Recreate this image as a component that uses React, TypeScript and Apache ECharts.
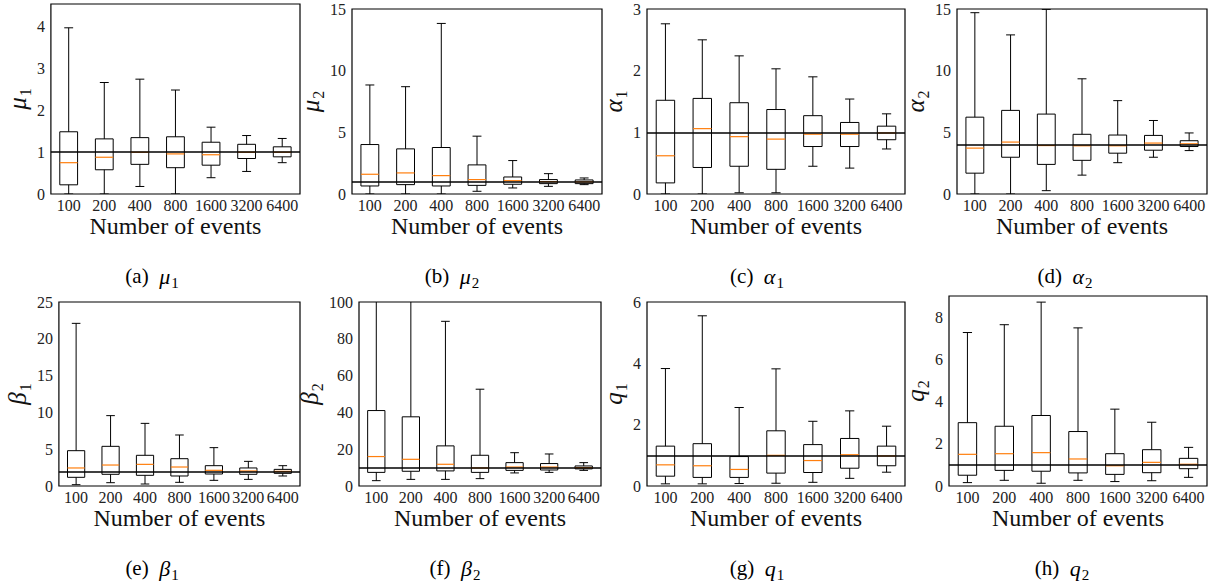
import React, { useEffect, useRef } from 'react';
import * as echarts from 'echarts';

const categories = ['100', '200', '400', '800', '1600', '3200', '6400'];

// each row: [whisker low, Q1, median, Q3, whisker high]
const mu1Boxes = [
  [0.0, 0.22, 0.75, 1.49, 3.98],
  [0.0, 0.58, 0.88, 1.32, 2.67],
  [0.18, 0.71, 1.0, 1.35, 2.75],
  [0.0, 0.63, 0.96, 1.37, 2.49],
  [0.39, 0.69, 0.94, 1.24, 1.6],
  [0.54, 0.85, 1.0, 1.19, 1.4],
  [0.75, 0.89, 1.0, 1.13, 1.33],
];
const mu2Boxes = [
  [0.0, 0.65, 1.6, 4.01, 8.84],
  [0.0, 0.76, 1.71, 3.66, 8.7],
  [0.0, 0.65, 1.49, 3.77, 13.83],
  [0.22, 0.7, 1.17, 2.36, 4.69],
  [0.49, 0.79, 1.08, 1.38, 2.71],
  [0.62, 0.84, 1.0, 1.17, 1.65],
  [0.76, 0.84, 0.98, 1.14, 1.3],
];
const alpha1Boxes = [
  [0.0, 0.18, 0.62, 1.52, 2.76],
  [0.0, 0.43, 1.06, 1.55, 2.5],
  [0.02, 0.45, 0.93, 1.48, 2.24],
  [0.02, 0.4, 0.89, 1.37, 2.03],
  [0.45, 0.77, 0.97, 1.27, 1.9],
  [0.42, 0.77, 0.97, 1.16, 1.54],
  [0.73, 0.88, 0.99, 1.1, 1.3],
];
const alpha2Boxes = [
  [0.0, 1.69, 3.72, 6.23, 14.7],
  [0.0, 2.98, 4.21, 6.78, 12.9],
  [0.27, 2.4, 3.93, 6.48, 14.97],
  [1.53, 2.73, 3.91, 4.84, 9.34],
  [2.54, 3.31, 3.91, 4.78, 7.57],
  [2.98, 3.55, 4.13, 4.75, 5.96],
  [3.52, 3.85, 4.07, 4.32, 4.95],
];
const beta1Boxes = [
  [0.18, 1.18, 2.45, 4.8, 22.1],
  [0.45, 1.59, 2.85, 5.39, 9.56],
  [0.27, 1.45, 2.94, 4.17, 8.51],
  [0.5, 1.36, 2.58, 3.71, 6.93],
  [0.77, 1.63, 2.13, 2.76, 5.21],
  [0.9, 1.59, 2.04, 2.45, 3.35],
  [1.36, 1.72, 1.99, 2.26, 2.76],
];
const beta2Boxes = [
  [2.9, 7.4, 16.0, 41.0, 130],
  [3.6, 8.0, 14.5, 37.6, 120],
  [3.6, 8.2, 11.8, 21.8, 89.5],
  [4.0, 7.4, 9.8, 16.7, 52.6],
  [7.1, 8.5, 10.3, 12.7, 18.1],
  [7.4, 8.7, 10.3, 12.2, 17.4],
  [8.5, 9.3, 10.0, 10.9, 12.7],
];
const q1Boxes = [
  [0.07, 0.32, 0.69, 1.3, 3.83],
  [0.07, 0.28, 0.66, 1.38, 5.55],
  [0.08, 0.28, 0.54, 0.96, 2.56],
  [0.09, 0.42, 1.0, 1.8, 3.82],
  [0.12, 0.44, 0.83, 1.35, 2.11],
  [0.25, 0.58, 1.02, 1.55, 2.45],
  [0.45, 0.66, 0.98, 1.3, 1.95],
];
const q2Boxes = [
  [0.16, 0.51, 1.5, 3.0, 7.27],
  [0.27, 0.74, 1.53, 2.83, 7.64],
  [0.13, 0.7, 1.58, 3.34, 8.71],
  [0.27, 0.62, 1.28, 2.58, 7.49],
  [0.21, 0.55, 0.96, 1.53, 3.64],
  [0.25, 0.63, 1.12, 1.72, 3.02],
  [0.41, 0.82, 1.03, 1.31, 1.83],
];

const trueValues = [1, 1, 1, 4, 2, 10, 1, 1];
const yMaxes = [4.55, 15, 3, 15, 25, 100, 6, 9];
const yIntervals = [1, 5, 1, 5, 5, 20, 2, 2];
const captionLetters = ['a', 'b', 'c', 'd', 'e', 'f', 'g', 'h'];
const symbolNames = ['μ', 'μ', 'α', 'α', 'β', 'β', 'q', 'q'];
const symbolSubs = ['1', '2', '1', '2', '1', '2', '1', '2'];
const allBoxes = [mu1Boxes, mu2Boxes, alpha1Boxes, alpha2Boxes, beta1Boxes, beta2Boxes, q1Boxes, q2Boxes];

// layout: [left, top, right, bottom] in pixels
const panelRects = [
  [41, 4, 300, 194],
  [352, 9, 602, 194],
  [647, 9, 905, 194],
  [957, 9, 1207, 194],
  [49, 302, 300, 486],
  [359, 302, 601, 486],
  [647, 302, 905, 486],
  [949, 296, 1207, 486],
];
const captionPos = [
  [152, 276], [452, 276], [757, 276], [1065, 276],
  [152, 568], [455, 568], [757, 568], [1062, 568],
];

const FONT = 'Liberation Serif';

function renderBox(params: any, api: any) {
  const idx = api.value(0);
  const lo = api.coord([idx, api.value(1)]);
  const q1 = api.coord([idx, api.value(2)]);
  const md = api.coord([idx, api.value(3)]);
  const q3 = api.coord([idx, api.value(4)]);
  const hi = api.coord([idx, api.value(5)]);
  const band = api.size([1, 0])[0];
  const half = band * 0.25;
  const cap = band * 0.125;
  const x = lo[0];
  const black = { stroke: '#000', lineWidth: 1, fill: null };
  return {
    type: 'group',
    children: [
      { type: 'line', shape: { x1: x, y1: lo[1], x2: x, y2: q1[1] }, style: black },
      { type: 'line', shape: { x1: x, y1: q3[1], x2: x, y2: hi[1] }, style: black },
      { type: 'line', shape: { x1: x - cap, y1: lo[1], x2: x + cap, y2: lo[1] }, style: black },
      { type: 'line', shape: { x1: x - cap, y1: hi[1], x2: x + cap, y2: hi[1] }, style: black },
      {
        type: 'rect',
        shape: { x: x - half, y: q3[1], width: half * 2, height: q1[1] - q3[1] },
        style: { stroke: '#000', lineWidth: 1, fill: 'rgba(0,0,0,0)' },
      },
      { type: 'line', shape: { x1: x - half, y1: md[1], x2: x + half, y2: md[1] }, style: { stroke: '#ff7f0e', lineWidth: 1.2 } },
    ],
  };
}

const richSym = {
  g: { fontFamily: FONT, fontSize: 25, fontStyle: 'italic', color: '#111', lineHeight: 26 },
  s: { fontFamily: FONT, fontSize: 16, color: '#111', lineHeight: 16, padding: [16, 0, 0, 1] },
};
const richCap = {
  r: { fontFamily: FONT, fontSize: 21, color: '#111', lineHeight: 24 },
  g: { fontFamily: FONT, fontSize: 22, fontStyle: 'italic', color: '#111', lineHeight: 24 },
  s: { fontFamily: FONT, fontSize: 15, color: '#111', lineHeight: 15, padding: [14, 0, 0, 1] },
};

export default function App() {
  const ref = useRef<HTMLDivElement>(null);
  useEffect(() => {
    if (!ref.current) return;
    const chart = echarts.init(ref.current, null, { renderer: 'svg' });
    const grids: any[] = [];
    const xAxes: any[] = [];
    const yAxes: any[] = [];
    const series: any[] = [];
    const graphics: any[] = [];
    panelRects.forEach((r, k) => {
      grids.push({
        left: r[0], top: r[1], width: r[2] - r[0], height: r[3] - r[1],
        show: true, borderColor: '#000', borderWidth: 1.2, backgroundColor: 'rgba(0,0,0,0)',
      });
      xAxes.push({
        type: 'category', gridIndex: k, data: categories, boundaryGap: true,
        name: 'Number of events', nameLocation: 'middle', nameGap: 16,
        nameTextStyle: { fontFamily: FONT, fontSize: 24, color: '#111' },
        axisLine: { show: false }, axisTick: { show: false }, splitLine: { show: false },
        axisLabel: { fontFamily: FONT, fontSize: 16, color: '#222', margin: 3, interval: 0 },
      });
      yAxes.push({
        type: 'value', gridIndex: k, min: 0, max: yMaxes[k], interval: yIntervals[k],
        name: `{g|${symbolNames[k]}}{s|${symbolSubs[k]}}`, nameLocation: 'middle', nameGap: 14,
        nameTextStyle: { rich: richSym },
        axisLine: { show: false }, axisTick: { show: false }, splitLine: { show: false },
        axisLabel: {
          fontFamily: FONT, fontSize: 16, color: '#222', margin: 6,
          showMaxLabel: yMaxes[k] % yIntervals[k] === 0,
        },
      });
      series.push({
        type: 'custom', xAxisIndex: k, yAxisIndex: k, clip: true,
        renderItem: renderBox,
        encode: { x: 0, y: [1, 2, 3, 4, 5] },
        data: allBoxes[k].map((b, i) => [i, ...b]),
        markLine: {
          silent: true, symbol: ['none', 'none'], label: { show: false },
          lineStyle: { color: '#000', width: 1.5, type: 'solid' },
          data: [{ yAxis: trueValues[k] }],
        },
      });
      graphics.push({
        type: 'text', x: captionPos[k][0], y: captionPos[k][1],
        style: {
          text: `{r|(${captionLetters[k]})  }{g|${symbolNames[k]}}{s|${symbolSubs[k]}}`,
          rich: richCap, align: 'center', verticalAlign: 'middle',
          fontFamily: FONT,
        },
      });
    });
    chart.setOption({
      animation: false,
      backgroundColor: '#fff',
      textStyle: { fontFamily: FONT },
      grid: grids,
      xAxis: xAxes,
      yAxis: yAxes,
      series,
      graphic: graphics,
    });
    return () => chart.dispose();
  }, []);
  return <div ref={ref} style={{ position: 'fixed', left: 0, top: 0, width: 1215, height: 588 }} />;
}
